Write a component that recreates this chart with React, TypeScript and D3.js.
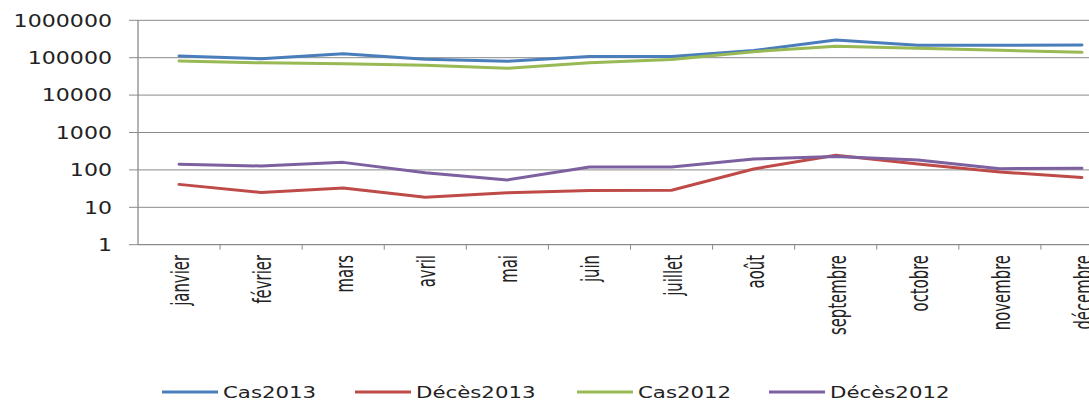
import React from "react";
import * as d3 from "d3";

const months = ["janvier", "février", "mars", "avril", "mai", "juin", "juillet", "août", "septembre", "octobre", "novembre", "décembre"];
const cas2013 = [111000, 94000, 128000, 91000, 80000, 107000, 107000, 155000, 296000, 215000, 215000, 218000];
const deces2013 = [41, 25, 33, 18.5, 24.5, 28, 28.5, 106, 245, 144, 88, 63];
const cas2012 = [82000, 73000, 69000, 63000, 52000, 73000, 89000, 145000, 202000, 178000, 158000, 139000];
const deces2012 = [141, 127, 159, 84, 54, 120, 120, 195, 228, 184, 108, 110];
const yTicks = [1, 10, 100, 1000, 10000, 100000, 1000000];
const seriesNames = ["Cas2013", "Décès2013", "Cas2012", "Décès2012"];
const seriesColors = ["#4A7EBB", "#BE4B48", "#98B954", "#7D60A0"];
const seriesValues = [cas2013, deces2013, cas2012, deces2012];

const W = 1089;
const H = 401;
const left = 138;
const plotRight = 1123;
const top = 20.3;
const bottom = 244.7;
const legendX = [162, 355, 577, 769];

export default function App() {
  const x = d3.scaleBand<string>().domain(months).range([left, plotRight]);
  const y = d3.scaleLog().domain([1, 1e6]).range([bottom, top]);
  const line = d3
    .line<number>()
    .x((_, i) => (x(months[i]) as number) + x.bandwidth() / 2)
    .y((v) => y(v));
  const bw = x.bandwidth();

  return (
    <svg
      width={W}
      height={H}
      style={{ position: "absolute", left: 0, top: 0, overflow: "hidden", background: "#fff" }}
    >
      {/* gridlines */}
      {yTicks.slice(1).map((t) => (
        <line key={"g" + t} x1={left} x2={plotRight} y1={y(t)} y2={y(t)} stroke="#8a8a8a" strokeWidth={1} />
      ))}
      {/* y tick marks */}
      {yTicks.map((t) => (
        <line key={"yt" + t} x1={left - 9} x2={left} y1={y(t)} y2={y(t)} stroke="#8a8a8a" strokeWidth={1} />
      ))}
      {/* y labels */}
      {yTicks.map((t) => (
        <text
          key={"yl" + t}
          transform={`translate(112, ${y(t) + 6.2}) scale(1.3,1)`}
          textAnchor="end"
          fontFamily="'DejaVu Sans', sans-serif"
          fontSize={17}
          fill="#222"
        >
          {String(t)}
        </text>
      ))}
      {/* axes */}
      <line x1={left} x2={left} y1={top} y2={bottom} stroke="#8a8a8a" strokeWidth={1.3} />
      <line x1={left} x2={plotRight} y1={bottom} y2={bottom} stroke="#8a8a8a" strokeWidth={1.3} />
      {months.map((m, i) => (
        <line
          key={"xt" + m}
          x1={left + (i + 1) * bw}
          x2={left + (i + 1) * bw}
          y1={bottom}
          y2={bottom + 5}
          stroke="#8a8a8a"
          strokeWidth={1}
        />
      ))}
      {/* x labels */}
      {months.map((m) => (
        <text
          key={"xl" + m}
          transform={`translate(${(x(m) as number) + bw / 2 + 10}, 255) scale(1.45,1) rotate(-90)`}
          textAnchor="end"
          fontFamily="'DejaVu Sans Condensed', 'DejaVu Sans', sans-serif"
          fontStretch="condensed"
          fontSize={16.5}
          fill="#222"
        >
          {m}
        </text>
      ))}
      {/* series */}
      {seriesValues.map((vals, si) => (
        <path
          key={"s" + si}
          d={line(vals) || ""}
          fill="none"
          stroke={seriesColors[si]}
          strokeWidth={3}
          strokeLinejoin="round"
          strokeLinecap="round"
        />
      ))}
      {/* legend */}
      {seriesNames.map((n, i) => (
        <g key={"lg" + n}>
          <line x1={legendX[i]} x2={legendX[i] + 56} y1={392} y2={392} stroke={seriesColors[i]} strokeWidth={3} />
          <text
            transform={`translate(${legendX[i] + 61}, 397.7) scale(1.42,1)`}
            fontFamily="'DejaVu Sans', sans-serif"
            fontSize={15}
            fill="#222"
          >
            {n}
          </text>
        </g>
      ))}
    </svg>
  );
}
